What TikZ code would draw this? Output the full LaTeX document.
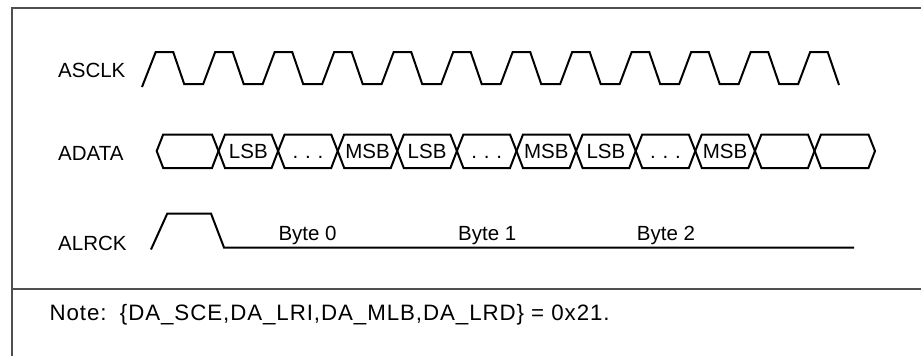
\documentclass[tikz,border=0pt]{standalone}
\usepackage{fontspec}
\setmainfont{Liberation Sans}
\definecolor{frame}{HTML}{4F4F4F}
\newcommand{\wdots}{.\hspace{6.8pt}.\hspace{6.8pt}.}
\begin{document}
\begin{tikzpicture}[x=1pt,y=-1pt,
  wave/.style={line width=2pt,black,line join=miter},
  frameline/.style={line width=2pt,frame},
  lbl/.style={inner sep=0pt,anchor=base west,font=\fontsize{20.5}{24}\selectfont},
  notelbl/.style={inner sep=0pt,anchor=base west,font=\fontsize{22.3}{24}\selectfont\addfontfeature{LetterSpace=4.2}},
  seglbl/.style={inner sep=0pt,anchor=base,font=\fontsize{20.5}{24}\selectfont}]
\useasboundingbox (0,0) rectangle (921,356);
% frame
\draw[frameline] (12,356) -- (12,7.5) -- (921,7.5);
\draw[frameline] (12,289) -- (921,289);
% signal names
\node[lbl] (nasclk) at (58,77.7) {ASCLK};
\node[lbl] (nadata) at (58,160) {ADATA};
\node[lbl] (nalrck) at (58,250) {ALRCK};
% ASCLK
\draw[wave] (142,87)
  foreach \k in {0,...,10} {
    -- ({155.7+59.5*\k},52) -- ({173.2+59.5*\k},52)
    -- ({184.2+59.5*\k},84) -- ({203.2+59.5*\k},84)
  }
  -- (810.2,52) -- (827.7,52) -- (839,85);
% ADATA
\def\d{6.5}
\foreach \a/\b in {156.7/218.5,218.5/278.1,278.1/337.7,337.7/397.3,397.3/456.9,456.9/516.5,516.5/576.1,576.1/635.7,635.7/695.3,695.3/754.9,754.9/814.5,814.5/875}{
  \draw[wave] (\a,151) -- ({\a+\d},134.5) -- ({\b-\d},134.5) -- (\b,151)
    -- ({\b-\d},168) -- ({\a+\d},168) -- cycle;
}
\foreach \n/\a/\b/\t in {s1/218.5/278.1/LSB,s2/278.1/337.7/\wdots,s3/337.7/397.3/MSB,
  s4/397.3/456.9/LSB,s5/456.9/516.5/\wdots,s6/516.5/576.1/MSB,
  s7/576.1/635.7/LSB,s8/635.7/695.3/\wdots,s9/695.3/754.9/MSB}{
  \node[seglbl] (\n) at ({(\a+\b)/2},158.5) {\t};
}
% ALRCK
\draw[wave] (151,249.5) -- (167.3,213.5) -- (211,213.5) -- (224,247.5) -- (854,247.5);
\node[lbl] (b0) at (278.3,240.7) {Byte 0};
\node[lbl] (b1) at (458,240.7) {Byte 1};
\node[lbl] (b2) at (636.7,240.7) {Byte 2};
% note
\node[notelbl] (note) at (49.3,320) {Note:\hspace{0.6em}\{DA\_SCE,DA\_LRI,DA\_MLB,DA\_LRD\} = 0x21.};
\end{tikzpicture}
\end{document}
